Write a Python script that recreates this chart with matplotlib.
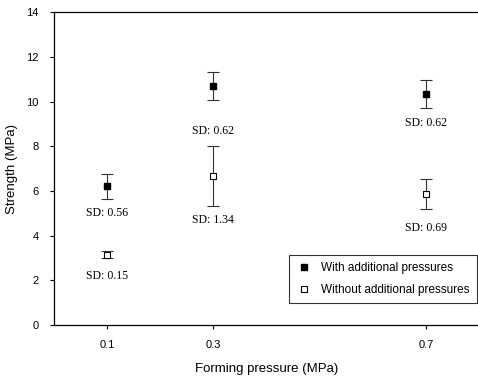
import numpy as np
import matplotlib.pyplot as plt

# forming pressure (MPa)
pressure = [0.1, 0.3, 0.7]
tick_labels = ["0.1", "0.3", "0.7"]

# strength (MPa) and standard deviations
with_add = [6.2, 10.7, 10.35]
with_sd = [0.56, 0.62, 0.62]
without_add = [3.15, 6.65, 5.86]
without_sd = [0.15, 1.34, 0.69]

# where the SD notes sit (data units)
with_label_y = [5.0, 8.68, 9.03]
without_label_y = [2.19, 4.70, 4.34]

sans = "Liberation Sans"
serif = "Liberation Serif"

fig = plt.figure(figsize=(4.78, 3.80), dpi=100)
ax = fig.add_axes([0.113, 0.145, 0.889, 0.823])

# error bars first, markers on top
ax.errorbar(pressure, with_add, yerr=with_sd, fmt="none", ecolor="#333333",
            elinewidth=0.8, capsize=4, capthick=0.8)
ax.errorbar(pressure, without_add, yerr=without_sd, fmt="none", ecolor="#333333",
            elinewidth=0.8, capsize=4, capthick=0.8)
ax.plot(pressure, with_add, "s", ms=5, mfc="black", mec="black", ls="none",
        zorder=4, label="With additional pressures")
ax.plot(pressure, without_add, "s", ms=5, mfc="white", mec="black", mew=0.8,
        ls="none", zorder=4, label="Without additional pressures")

for x, y, sd in zip(pressure, with_label_y, with_sd):
    ax.text(x, y, "SD: %.2f" % sd, ha="center", va="center",
            family=serif, fontsize=8.5)
for x, y, sd in zip(pressure, without_label_y, without_sd):
    ax.text(x, y, "SD: %.2f" % sd, ha="center", va="center",
            family=serif, fontsize=8.5)

ax.set_xlim(0, 0.8)
ax.set_ylim(0, 14)
ax.set_xticks(pressure)
ax.set_xticklabels(tick_labels, family=sans, fontsize=8)
ax.set_yticks(np.arange(0, 15, 2))
ax.set_yticklabels([str(v) for v in range(0, 15, 2)], family=sans, fontsize=8)
ax.tick_params(direction="out", length=3, width=0.8, pad=8)

ax.spines["right"].set_visible(False)
for s in ["left", "bottom", "top"]:
    ax.spines[s].set_linewidth(0.9)

ax.set_xlabel("Forming pressure (MPa)", family=sans, fontsize=9.5, labelpad=9)
ax.set_ylabel("Strength (MPa)", family=sans, fontsize=9.5, labelpad=6)

leg = ax.legend(loc="lower right", bbox_to_anchor=(0.995, 0.07),
                borderaxespad=0, prop={"family": sans, "size": 8.5},
                frameon=True, fancybox=False, edgecolor="black",
                borderpad=0.6, handletextpad=0.9, handlelength=1.2,
                labelspacing=0.8)
leg.get_frame().set_linewidth(0.8)

fig.savefig("out.png", dpi=100)
